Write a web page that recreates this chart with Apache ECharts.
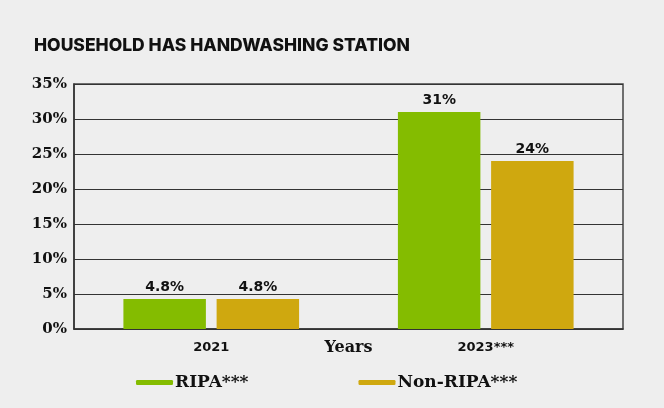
<!DOCTYPE html>
<html><head><meta charset="utf-8">
<script src="https://cdn.jsdelivr.net/npm/echarts@6/dist/echarts.min.js"></script>
<style>html,body{margin:0;padding:0;background:#eeeeee;}#c{width:664px;height:408px;}</style>
</head><body><div id="c"></div>
<script>
var categories = ['2021', '2023***'];
var seriesNames = ['RIPA***', 'Non-RIPA***'];
var ripaValues = [4.3, 31];
var nonRipaValues = [4.3, 24];
var ripaLabels = ['4.8%', '31%'];
var nonRipaLabels = ['4.8%', '24%'];
var yTicks = [0, 5, 10, 15, 20, 25, 30, 35];
var colors = ['#84bc00', '#cfa80f'];

var chart = echarts.init(document.getElementById('c'));
var labelStyle = function (arr) {
  return {
    show: true, position: 'top', distance: 5,
    formatter: function (p) { return arr[p.dataIndex]; },
    fontFamily: 'DejaVu Sans', fontWeight: 'bold', fontSize: 14, color: '#111'
  };
};
chart.setOption({
  backgroundColor: '#eeeeee',
  animation: false,
  title: {
    text: 'HOUSEHOLD HAS HANDWASHING STATION',
    left: 29, top: 32,
    textStyle: { fontFamily: 'Inter', fontWeight: 800, fontSize: 17.5, color: '#111' }
  },
  legend: {
    data: seriesNames,
    left: 131, top: 369, itemGap: 110,
    itemWidth: 37, itemHeight: 5, icon: 'roundRect',
    textStyle: { fontFamily: 'DejaVu Serif', fontWeight: 'bold', fontSize: 17, color: '#111', padding: [0, 0, 0, -3] }
  },
  grid: { left: 74, right: 41, top: 84, bottom: 79, show: true, borderColor: '#444', borderWidth: 1.5 },
  xAxis: {
    type: 'category', data: categories,
    name: 'Years', nameLocation: 'middle', nameGap: 11, nameMoveOverlap: false,
    nameTextStyle: { fontFamily: 'DejaVu Serif', fontWeight: 'bold', fontSize: 16, color: '#111' },
    axisLine: { lineStyle: { color: '#333', width: 1.5 } },
    axisTick: { show: false },
    axisLabel: { fontFamily: 'DejaVu Sans', fontWeight: 'bold', fontSize: 13, color: '#111', margin: 12 }
  },
  yAxis: {
    type: 'value', min: 0, max: yTicks[yTicks.length - 1], interval: 5,
    axisLine: { show: true, lineStyle: { color: '#333', width: 1.5 } },
    axisTick: { show: false },
    splitLine: { lineStyle: { color: '#333', width: 1.2 } },
    axisLabel: { formatter: '{value}%', fontFamily: 'DejaVu Serif', fontWeight: 'bold', fontSize: 15, color: '#111', margin: 7 }
  },
  series: [
    { name: seriesNames[0], type: 'bar', data: ripaValues, itemStyle: { color: colors[0] },
      barGap: '13%', barCategoryGap: '36%', label: labelStyle(ripaLabels) },
    { name: seriesNames[1], type: 'bar', data: nonRipaValues, itemStyle: { color: colors[1] },
      label: labelStyle(nonRipaLabels) }
  ]
});
</script></body></html>
